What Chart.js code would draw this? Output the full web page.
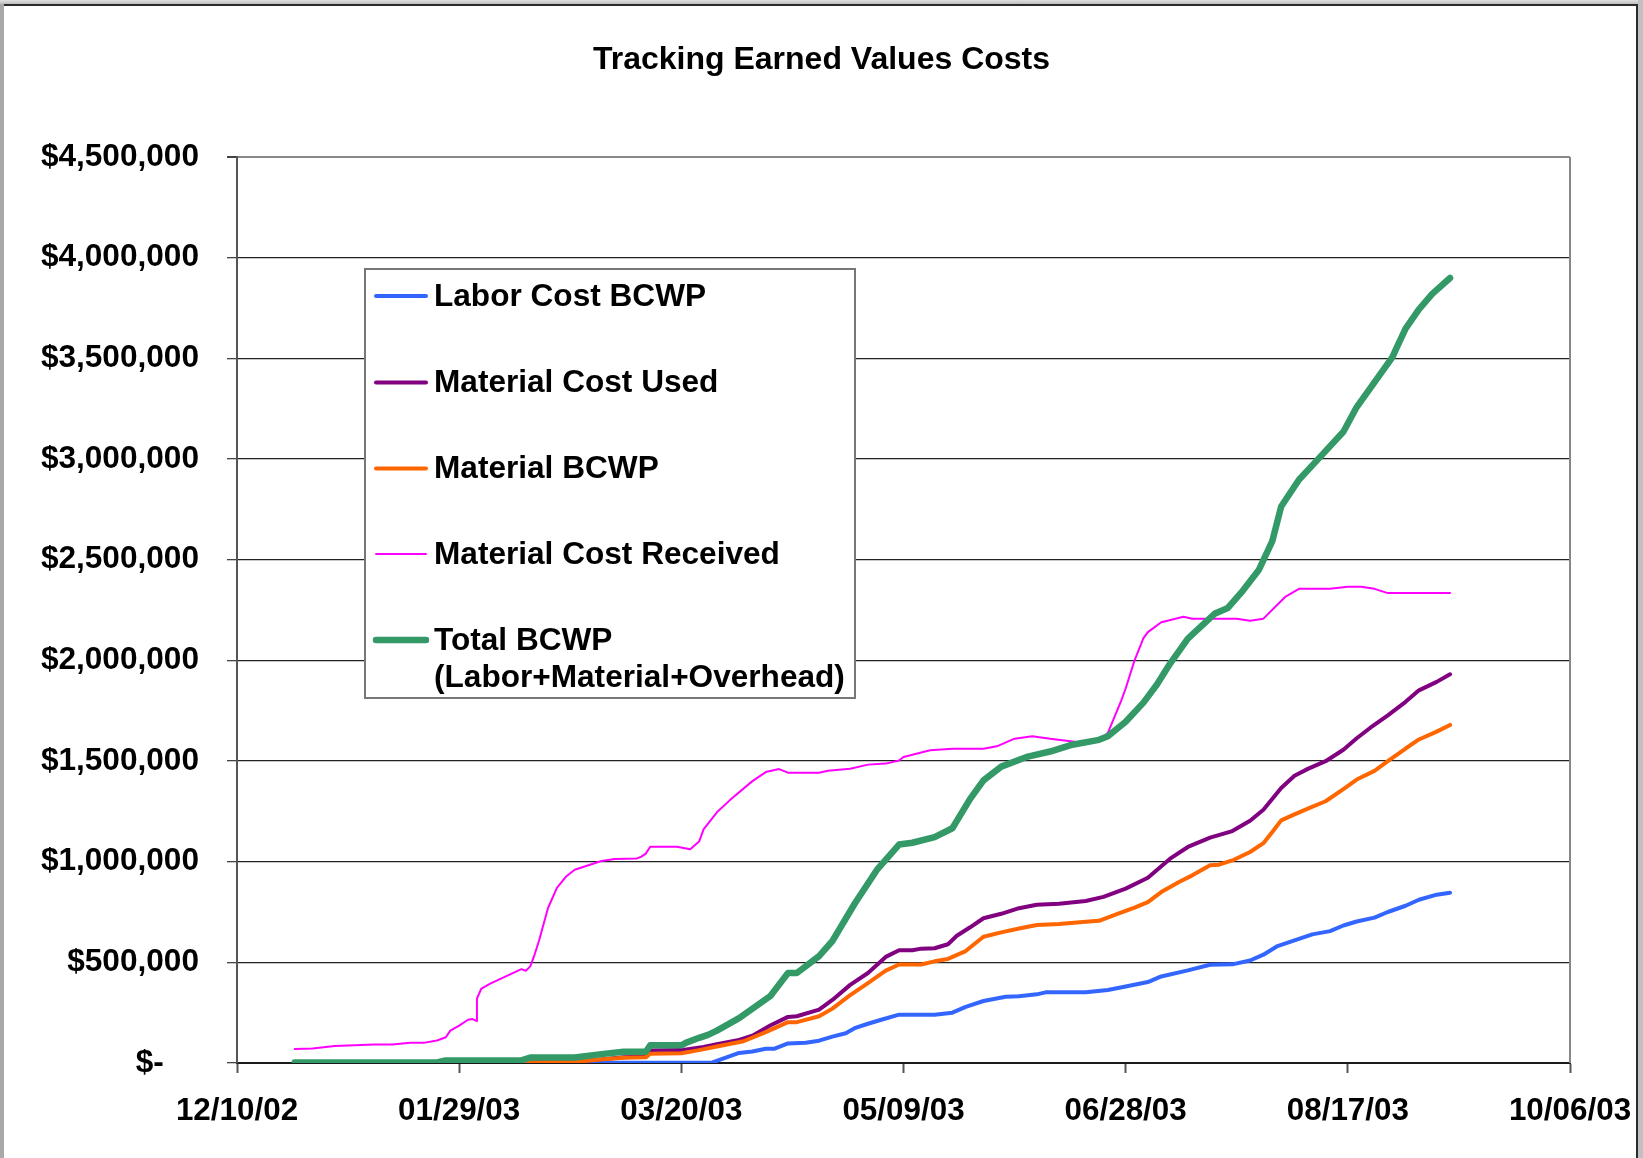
<!DOCTYPE html>
<html>
<head>
<meta charset="utf-8">
<script src="https://cdn.jsdelivr.net/npm/chart.js@4.4.1/dist/chart.umd.min.js"></script>
<style>
html,body{margin:0;padding:0;background:#fff;}
#wrap{position:absolute;left:0;top:0;width:1643px;height:1158px;}
.f{position:absolute;}
</style>
</head>
<body>
<div id="wrap"><canvas id="c" width="1643" height="1158"></canvas></div>
<div class="f" style="left:0;top:0;width:4px;height:1158px;background:#a8a8a8"></div>
<div class="f" style="left:0;top:0;width:1643px;height:4px;background:linear-gradient(#e0e0e0,#bdbdbd)"></div>
<div class="f" style="left:4px;top:4px;width:1634px;height:2px;background:#2a2a2a"></div>
<div class="f" style="left:1636px;top:4px;width:2px;height:1154px;background:#2a2a2a"></div>
<div class="f" style="left:1638px;top:0;width:5px;height:1158px;background:#c0c0c0"></div>
<script>
// ---- Data (x = days since 12/10/02, y = dollars) ----
const startDate = '2002-12-10';
const chartTitle = 'Tracking Earned Values Costs';
const xTickDays = [0, 50, 100, 150, 200, 250, 300];
const yTickValues = [0, 500000, 1000000, 1500000, 2000000, 2500000, 3000000, 3500000, 4000000, 4500000];

const seriesLabels = ['Labor Cost BCWP', 'Material Cost Used', 'Material BCWP', 'Material Cost Received', ['Total BCWP', '(Labor+Material+Overhead)']];

const laborDays = [64,107,113,116,119,121,124,128,131,134,137,139,142,145,149,157,161,164,168,173,176,180,182,191,196,200,205,208,214,219,224,228,231,234,238,242,246,249,252,256,259,263,266,270,273];
const laborCost = [0,3000,50000,57000,71000,71000,97000,101000,111000,131000,148000,173000,195000,215000,240000,240000,250000,279000,308000,329000,332000,341000,351000,351000,363000,380000,402000,430000,460000,488000,490000,509000,538000,579000,609000,639000,655000,683000,703000,722000,750000,781000,811000,836000,846000];

const usedDays = [64,76,82,87,92,93,100,105,108,113,116,120,124,126,131,134,138,142,146,149,152,154,157,160,162,165,168,172,176,180,185,191,195,200,205,210,214,219,224,228,231,235,238,241,245,249,252,255,259,263,266,270,273];
const materialUsed = [4000,6000,18000,28000,32000,62000,64000,80000,93000,115000,136000,186000,229000,232000,265000,313000,388000,447000,527000,560000,560000,568000,570000,590000,632000,674000,719000,741000,769000,786000,791000,805000,825000,866000,920000,1015000,1073000,1119000,1152000,1203000,1258000,1366000,1427000,1461000,1499000,1556000,1613000,1664000,1727000,1794000,1851000,1893000,1931000];

const materialDays = [64,76,81,87,92,93,100,104,108,114,119,124,126,131,134,138,142,146,149,154,157,160,164,168,172,176,180,185,191,194,198,202,205,208,212,215,219,221,224,228,231,233,235,238,241,245,249,252,256,259,263,266,270,273];
const materialBCWP = [3000,5000,16000,26000,28000,46000,48000,64000,82000,108000,153000,203000,203000,232000,270000,337000,397000,459000,489000,489000,505000,517000,556000,627000,649000,668000,685000,690000,702000,706000,740000,772000,799000,849000,899000,932000,982000,985000,1006000,1048000,1092000,1147000,1205000,1235000,1263000,1300000,1360000,1408000,1451000,1499000,1562000,1607000,1646000,1679000];

const receivedDays = [13,17,22,31,35,39,42,45,47,48,50,52,53,54,54,55,57,64,65,66,67,68,70,72,74,76,82,85,90,91,92,93,99,102,104,105,108,111,116,119,122,124,131,133,138,142,146,149,150,156,161,168,171,175,179,183,189,194,196,199,200,202,204,205,208,213,215,225,228,231,236,239,246,250,253,256,259,273];
const materialReceived = [70000,72000,84000,92000,92000,100000,100000,112000,128000,161000,186000,215000,218000,208000,320000,370000,394000,466000,458000,480000,540000,610000,770000,870000,925000,960000,1003000,1013000,1016000,1025000,1040000,1074000,1074000,1062000,1100000,1160000,1245000,1307000,1400000,1445000,1460000,1442000,1442000,1452000,1462000,1482000,1487000,1502000,1520000,1553000,1561000,1561000,1573000,1611000,1623000,1610000,1594000,1600000,1640000,1800000,1860000,2000000,2110000,2140000,2189000,2216000,2207000,2207000,2197000,2207000,2317000,2355000,2355000,2366000,2366000,2355000,2334000,2334000];

const totalDays = [13,45,47,64,66,76,82,87,92,93,100,101,104,106,108,113,120,124,126,129,131,134,139,144,149,152,157,161,165,168,172,178,183,188,194,196,200,204,207,210,214,220,223,226,230,233,235,239,243,249,252,260,261,263,266,269,273];
const totalBCWP = [3000,3000,13000,13000,27000,27000,44000,56000,56000,88000,88000,100000,125000,140000,161000,223000,332000,447000,447000,497000,531000,606000,791000,959000,1085000,1094000,1122000,1166000,1312000,1404000,1472000,1522000,1547000,1581000,1605000,1623000,1695000,1790000,1879000,1984000,2108000,2231000,2260000,2336000,2450000,2592000,2764000,2897000,2992000,3135000,3258000,3505000,3553000,3648000,3743000,3820000,3899000];

// ---- helpers ----
const START_MS = Date.parse(startDate + 'T00:00:00Z');
function pad2(n){ return (n < 10 ? '0' : '') + n; }
function dayToLabel(d){
  const dt = new Date(START_MS + d * 86400000);
  return pad2(dt.getUTCMonth() + 1) + '/' + pad2(dt.getUTCDate()) + '/' + pad2(dt.getUTCFullYear() % 100);
}
function pts(xs, ys){ return xs.map((x, i) => ({x: x, y: ys[i]})); }

const FONT = "'Liberation Sans', Arial, Helvetica, sans-serif";
Chart.defaults.font.family = FONT;
Chart.defaults.color = '#000';

const colors = ['#3366FF', '#800080', '#FF6600', '#FF00FF', '#339966'];
const widths = [4, 4, 4, 2, 6.5];
const seriesData = [pts(laborDays, laborCost), pts(usedDays, materialUsed), pts(materialDays, materialBCWP), pts(receivedDays, materialReceived), pts(totalDays, totalBCWP)];

const datasets = seriesData.map((d, i) => ({
  label: seriesLabels[i],
  data: d,
  borderColor: colors[i],
  backgroundColor: colors[i],
  borderWidth: widths[i],
  pointRadius: 0,
  tension: 0,
  fill: false,
  borderJoinStyle: 'round',
  borderCapStyle: 'round',
  order: 5 - i
}));

const boxLegend = {
  id: 'boxLegend',
  afterDraw(chart){
    const ctx = chart.ctx;
    const ca = chart.chartArea;
    ctx.save();
    // title centred on the page
    ctx.fillStyle = '#000';
    ctx.font = 'bold 32px ' + FONT;
    ctx.textAlign = 'center';
    ctx.textBaseline = 'alphabetic';
    ctx.fillText(chartTitle, 821.5, 68.5);
    // plot right border
    ctx.strokeStyle = '#888';
    ctx.lineWidth = 2;
    ctx.beginPath();
    ctx.moveTo(ca.right, ca.top);
    ctx.lineTo(ca.right, ca.bottom);
    ctx.stroke();
    // legend box
    const bx = 365, by = 269, bw = 490, bh = 429;
    ctx.fillStyle = '#fff';
    ctx.fillRect(bx, by, bw, bh);
    ctx.strokeStyle = '#777';
    ctx.lineWidth = 2;
    ctx.strokeRect(bx, by, bw, bh);
    const rowY = [296, 382.5, 468.5, 554, 640];
    ctx.font = 'bold 31.6px ' + FONT;
    ctx.textBaseline = 'middle';
    ctx.textAlign = 'left';
    chart.data.datasets.forEach((ds, i) => {
      const y = rowY[i];
      ctx.strokeStyle = ds.borderColor;
      ctx.lineWidth = ds.borderWidth;
      ctx.lineCap = 'round';
      ctx.beginPath();
      ctx.moveTo(376, y);
      ctx.lineTo(426, y);
      ctx.stroke();
      ctx.fillStyle = '#000';
      const lines = Array.isArray(ds.label) ? ds.label : [ds.label];
      lines.forEach((t, k) => ctx.fillText(t, 434, y + 1 + k * 37));
    });
    ctx.restore();
  }
};

new Chart(document.getElementById('c'), {
  type: 'line',
  data: { datasets: datasets },
  plugins: [boxLegend],
  options: {
    responsive: false,
    animation: false,
    devicePixelRatio: 1,
    layout: { padding: { left: 0, right: 0, top: 157, bottom: 0 } },
    plugins: {
      legend: { display: false },
      tooltip: { enabled: false },
      title: { display: false }
    },
    scales: {
      x: {
        type: 'linear',
        min: xTickDays[0],
        max: xTickDays[xTickDays.length - 1],
        afterBuildTicks(scale){ scale.ticks = xTickDays.map(v => ({value: v})); },
        afterFit(scale){ scale.height = 95; scale.paddingRight = 73; scale.paddingLeft = 0; },
        ticks: {
          autoSkip: false,
          maxRotation: 0,
          padding: 20,
          color: '#000',
          font: { size: 31.4, weight: 'bold', family: FONT },
          callback: (v) => dayToLabel(v)
        },
        grid: { display: true, drawOnChartArea: false, drawTicks: true, tickLength: 10, tickColor: '#555', tickWidth: 2 },
        border: { display: true, color: '#1a1a1a', width: 2 }
      },
      y: {
        type: 'linear',
        min: yTickValues[0],
        max: yTickValues[yTickValues.length - 1],
        afterBuildTicks(scale){ scale.ticks = yTickValues.map(v => ({value: v})); },
        afterFit(scale){ scale.width = 237; },
        ticks: {
          padding: 28,
          color: '#000',
          font: { size: 31.6, weight: 'bold', family: FONT },
          callback: (v) => v === 0 ? '$-    ' : '$' + Number(v).toLocaleString('en-US')
        },
        grid: {
          display: true,
          drawTicks: true,
          tickLength: 10,
          tickColor: '#444',
          color: (c) => (c.tick && c.tick.value === 4500000) ? '#888' : '#222',
          lineWidth: (c) => (c.tick && c.tick.value === 4500000) ? 2 : 1.3
        },
        border: { display: true, color: '#555', width: 2 }
      }
    }
  }
});
</script>
</body>
</html>
